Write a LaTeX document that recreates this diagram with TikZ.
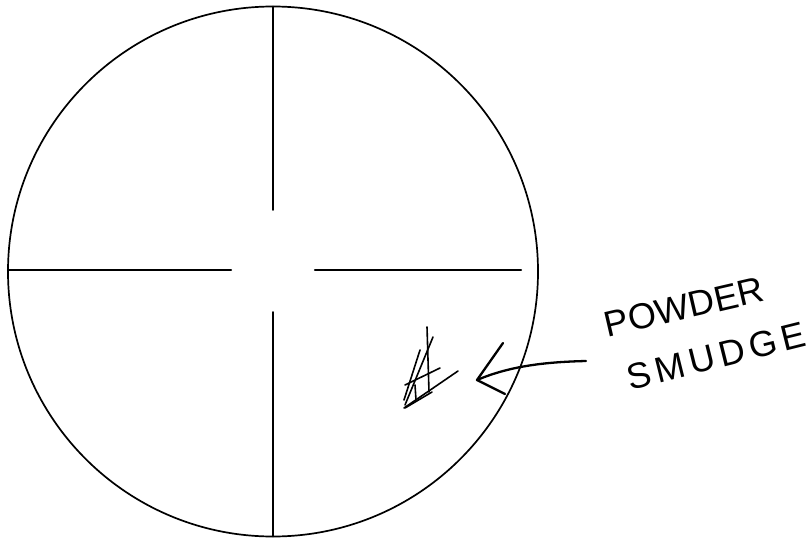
\documentclass[tikz,border=0pt]{standalone}
\usepackage{fontspec}
\setmainfont{Liberation Sans}
\begin{document}
\begin{tikzpicture}[x=1pt,y=-1pt, line cap=round, line join=round,
  ring/.style={draw, circle, line width=1.7pt, minimum size=530pt, inner sep=0pt, outer sep=0pt},
  hair/.style={line width=1.6pt},
  hairthick/.style={line width=2.4pt},
  hatch/.style={line width=1.6pt},
  pen/.style={line width=2.3pt},
  lbla/.style={font=\fontsize{36}{36}\selectfont, inner sep=0pt},
  lblb/.style={font=\fontsize{36}{36}\selectfont\addfontfeature{LetterSpace=14}, inner sep=0pt}]
\useasboundingbox (0,0) rectangle (810,540);
% reticle
\node[ring] (c) at (273,271.5) {};
\coordinate (vt) at (273,210);
\coordinate (vb) at (273,312);
\coordinate (hls) at (8,270);
\coordinate (hl) at (231,270);
\coordinate (hr) at (315,270);
\coordinate (hre) at (521,270);
\draw[hair] (c.north) -- (vt);
\draw[hair] (vb) -- (c.south);
\draw[hairthick] (hls) -- (hl);
\draw[hairthick] (hr) -- (hre);
% smudge hatching
\coordinate (s1a) at (427,327); \coordinate (s1b) at (429,392);
\coordinate (s2a) at (433,337); \coordinate (s2b) at (405,405);
\coordinate (s3a) at (420,350); \coordinate (s3b) at (404,400);
\coordinate (s4a) at (440,368); \coordinate (s4b) at (405,385);
\coordinate (s5a) at (458,371); \coordinate (s5b) at (404,408);
\coordinate (s6a) at (432,392); \coordinate (s6b) at (405,408);
\coordinate (s7a) at (415,385); \coordinate (s7b) at (416,400);
\draw[hatch] (s1a) -- (s1b);
\draw[hatch] (s2a) -- (s2b);
\draw[hatch] (s3a) -- (s3b);
\draw[hatch] (s4a) -- (s4b);
\draw[hatch] (s5a) -- (s5b);
\draw[hatch] (s6a) -- (s6b);
\draw[hatch] (s7a) -- (s7b);
% arrow
\coordinate (tip) at (477,380);
\coordinate (tail) at (586,361);
\coordinate (ha) at (503,343);
\coordinate (hb) at (505,394);
\draw[pen] (tail) .. controls (545,362) and (510,366) .. (tip);
\draw[pen] (ha) -- (tip) -- (hb);
% labels
\node[lbla, rotate=13] (pw) at (684,307) {POWDER};
\node[lblb, rotate=14] (sm) at (716,356) {SMUDGE};
\end{tikzpicture}
\end{document}
